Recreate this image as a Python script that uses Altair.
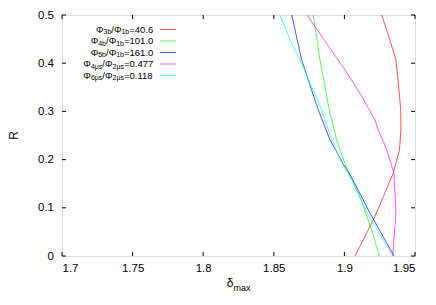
import altair as alt
import pandas as pd

# ---- data ----
series_names = ["Φ3b/Φ1b=40.6", "Φ4b/Φ1b=101.0", "Φ5b/Φ1b=161.0",
                "Φ4μs/Φ2μs=0.477", "Φ6μs/Φ2μs=0.118"]
series_colors = ["#ff0000", "#00ff00", "#0000ff", "#ff00ff", "#00ffff"]

r_3b = [0, 0.075, 0.123, 0.172, 0.22, 0.261, 0.303, 0.35, 0.407, 0.45, 0.5]
d_3b = [1.9075, 1.9205, 1.9276, 1.9346, 1.939, 1.940, 1.9399, 1.9385, 1.9365, 1.932, 1.9264]

r_4b = [0, 0.054, 0.123, 0.192, 0.241, 0.303, 0.407, 0.5]
d_4b = [1.9247, 1.9193, 1.911, 1.9004, 1.8945, 1.8893, 1.8827, 1.878]

r_5b = [0, 0.089, 0.158, 0.192, 0.241, 0.303, 0.407, 0.5]
d_5b = [1.9351, 1.9181, 1.906, 1.899, 1.8898, 1.8815, 1.8697, 1.8627]

r_4mu = [0, 0.089, 0.172, 0.22, 0.241, 0.261, 0.282, 0.338, 0.386, 0.441, 0.5]
d_4mu = [1.9342, 1.9365, 1.9351, 1.93, 1.9271, 1.924, 1.9217, 1.911, 1.9004, 1.8874, 1.8737]

r_6mu = [0, 0.033, 0.089, 0.158, 0.192, 0.241, 0.303, 0.407, 0.441, 0.5]
d_6mu = [1.9342, 1.9276, 1.9162, 1.9052, 1.8985, 1.891, 1.8839, 1.8686, 1.8627, 1.8544]

x_ticks = [1.7, 1.75, 1.8, 1.85, 1.9, 1.95]
y_ticks = [0, 0.1, 0.2, 0.3, 0.4, 0.5]

# legend label pieces: (text, is_subscript)
legend_parts = [
    [("Φ", 0), ("3b", 1), ("/Φ", 0), ("1b", 1), ("=40.6", 0)],
    [("Φ", 0), ("4b", 1), ("/Φ", 0), ("1b", 1), ("=101.0", 0)],
    [("Φ", 0), ("5b", 1), ("/Φ", 0), ("1b", 1), ("=161.0", 0)],
    [("Φ", 0), ("4μs", 1), ("/Φ", 0), ("2μs", 1), ("=0.477", 0)],
    [("Φ", 0), ("6μs", 1), ("/Φ", 0), ("2μs", 1), ("=0.118", 0)],
]

# ---- layout ----
W, H = 353, 241
FONT = "Liberation Sans"
MAIN_FS, SUB_FS = 9.5, 7
ARIAL_W = {"Φ": 796, "μ": 576, "b": 556, "s": 500, "=": 584, ".": 278, "/": 278}


def text_w(t, fs):
    return sum(ARIAL_W.get(c, 556) for c in t) / 1000.0 * fs


rows = []
for name, arr_r, arr_d in zip(series_names,
                              [r_3b, r_4b, r_5b, r_4mu, r_6mu],
                              [d_3b, d_4b, d_5b, d_4mu, d_6mu]):
    for r, d in zip(arr_r, arr_d):
        rows.append({"series": name, "R": r, "delta": d})
df = pd.DataFrame(rows)

x_scale = alt.Scale(domain=[1.7, 1.95], nice=False, zero=False)
y_scale = alt.Scale(domain=[0, 0.5], nice=False, zero=False)
color_enc = alt.Color("series:N", scale=alt.Scale(domain=series_names, range=series_colors),
                      legend=None)

lines = alt.Chart(df).mark_line(strokeWidth=0.9, opacity=0.75, clip=True).encode(
    x=alt.X("delta:Q", scale=x_scale,
            axis=alt.Axis(values=x_ticks, format="~g", ticks=False, domain=False, grid=False,
                          labelFont=FONT, labelFontSize=11.5, labelColor="black",
                          labelPadding=6, title=None)),
    y=alt.Y("R:Q", scale=y_scale,
            axis=alt.Axis(values=y_ticks, format="~g", ticks=False, domain=False, grid=False,
                          labelFont=FONT, labelFontSize=11.5, labelColor="black",
                          labelPadding=8.5, title=None)),
    color=color_enc,
    order=alt.Order("R:Q"),
)

tx = pd.DataFrame({"v": x_ticks})
ty = pd.DataFrame({"v": y_ticks})
tick_bottom = alt.Chart(tx).mark_rule(color="black", strokeWidth=1).encode(
    x=alt.X("v:Q", scale=x_scale), y=alt.value(H), y2=alt.value(H - 4))
tick_top = alt.Chart(tx).mark_rule(color="black", strokeWidth=1).encode(
    x=alt.X("v:Q", scale=x_scale), y=alt.value(0), y2=alt.value(4))
tick_left = alt.Chart(ty).mark_rule(color="black", strokeWidth=1).encode(
    y=alt.Y("v:Q", scale=y_scale), x=alt.value(0), x2=alt.value(4))
tick_right = alt.Chart(ty).mark_rule(color="black", strokeWidth=1).encode(
    y=alt.Y("v:Q", scale=y_scale), x=alt.value(W), x2=alt.value(W - 4))

# legend built from the pieces
right_edge = 91.3
row_y0, row_dy = 14.5, 11.5
main_rows, sub_rows, key_rows = [], [], []
for i, parts in enumerate(legend_parts):
    y = row_y0 + i * row_dy
    total = sum(text_w(t, SUB_FS if s else MAIN_FS) for t, s in parts)
    x = right_edge - total
    for t, s in parts:
        if s:
            sub_rows.append({"px": x, "py": y + 2.8, "t": t})
            x += text_w(t, SUB_FS)
        else:
            main_rows.append({"px": x, "py": y, "t": t})
            x += text_w(t, MAIN_FS)
    key_rows.append({"px": 98, "px2": 114, "py": y, "series": series_names[i]})

leg_main = alt.Chart(pd.DataFrame(main_rows)).mark_text(
    align="left", baseline="middle", font=FONT, fontSize=MAIN_FS, fill="black").encode(
    x=alt.X("px:Q", scale=None, axis=None), y=alt.Y("py:Q", scale=None, axis=None), text="t:N")
leg_sub = alt.Chart(pd.DataFrame(sub_rows)).mark_text(
    align="left", baseline="middle", font=FONT, fontSize=SUB_FS, fill="black").encode(
    x=alt.X("px:Q", scale=None, axis=None), y=alt.Y("py:Q", scale=None, axis=None), text="t:N")
leg_keys = alt.Chart(pd.DataFrame(key_rows)).mark_rule(strokeWidth=0.9, opacity=0.75).encode(
    x=alt.X("px:Q", scale=None, axis=None), x2="px2:Q",
    y=alt.Y("py:Q", scale=None, axis=None),
    color=color_enc)

# axis titles
title_x_main = alt.Chart(pd.DataFrame({"px": [164.7], "py": [268], "t": ["δ"]})).mark_text(
    align="left", baseline="middle", font=FONT, fontSize=12, fill="black").encode(
    x=alt.X("px:Q", scale=None, axis=None), y=alt.Y("py:Q", scale=None, axis=None), text="t:N")
title_x_sub = alt.Chart(pd.DataFrame({"px": [171.6], "py": [272.5], "t": ["max"]})).mark_text(
    align="left", baseline="middle", font=FONT, fontSize=9, fill="black").encode(
    x=alt.X("px:Q", scale=None, axis=None), y=alt.Y("py:Q", scale=None, axis=None), text="t:N")
title_y = alt.Chart(pd.DataFrame({"px": [-48], "py": [120.5], "t": ["R"]})).mark_text(
    align="center", baseline="middle", font=FONT, fontSize=12, fill="black", angle=270).encode(
    x=alt.X("px:Q", scale=None, axis=None), y=alt.Y("py:Q", scale=None, axis=None), text="t:N")

chart = alt.layer(
    lines, tick_bottom, tick_top, tick_left, tick_right,
    leg_main, leg_sub, leg_keys, title_x_main, title_x_sub, title_y,
).properties(
    width=W, height=H,
    autosize=alt.AutoSizeParams(type="none"),
    padding={"left": 54, "top": 7, "right": 13, "bottom": 41},
).configure_view(stroke="black", strokeWidth=1).configure(background="white")

chart.save("out.html", embed_options={"renderer": "svg", "actions": False})
